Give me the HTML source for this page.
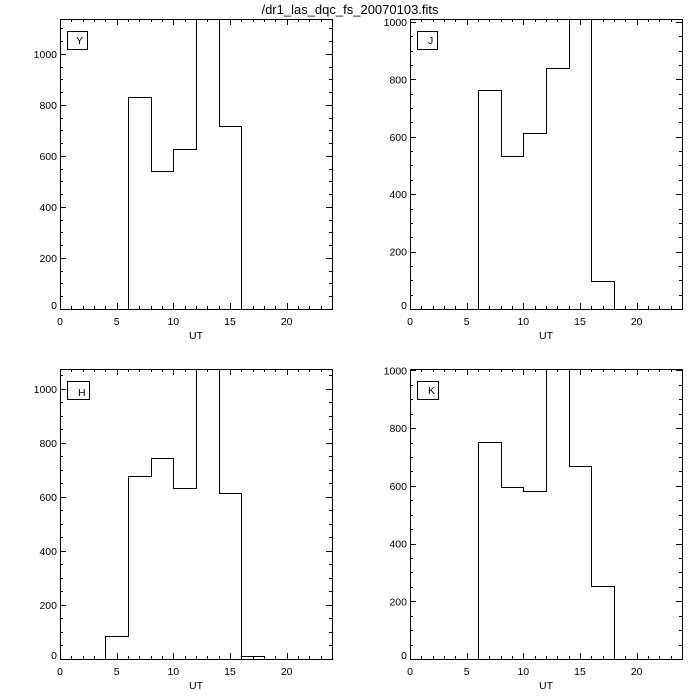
<!DOCTYPE html>
<html><head><meta charset="utf-8"><style>
html,body{margin:0;padding:0;background:#fff;}
svg{display:block;}
text{font-family:"Liberation Sans","DejaVu Sans",sans-serif;font-size:10.5px;fill:#000;}
</style></head><body>
<svg id="s" width="700" height="700" viewBox="0 0 700 700" xmlns="http://www.w3.org/2000/svg">
<rect width="700" height="700" fill="#fff"/>
<text x="350" y="14" text-anchor="middle" style="font-size:13px">/dr1_las_dqc_fs_20070103.fits</text>
<g id="g" fill="none" stroke="#000" stroke-width="1"></g>
<g text-anchor="middle">
<text x="60" y="325">0</text><text x="116.7" y="325">5</text><text x="173.3" y="325">10</text><text x="230" y="325">15</text><text x="286.7" y="325">20</text><text x="196" y="339">UT</text>
<text x="410" y="325">0</text><text x="466.7" y="325">5</text><text x="523.3" y="325">10</text><text x="580" y="325">15</text><text x="636.7" y="325">20</text><text x="546" y="339">UT</text>
<text x="60" y="675">0</text><text x="116.7" y="675">5</text><text x="173.3" y="675">10</text><text x="230" y="675">15</text><text x="286.7" y="675">20</text><text x="196" y="689">UT</text>
<text x="410" y="675">0</text><text x="466.7" y="675">5</text><text x="523.3" y="675">10</text><text x="580" y="675">15</text><text x="636.7" y="675">20</text><text x="546" y="689">UT</text>
</g>
<g text-anchor="end">
<text x="57" y="309">0</text><text x="57" y="262">200</text><text x="57" y="211">400</text><text x="57" y="160">600</text><text x="57" y="109">800</text><text x="57" y="58">1000</text>
<text x="407" y="309">0</text><text x="407" y="255.6">200</text><text x="407" y="198.2">400</text><text x="407" y="140.8">600</text><text x="407" y="83.3">800</text><text x="407" y="26">1000</text>
<text x="57" y="659">0</text><text x="57" y="609">200</text><text x="57" y="555">400</text><text x="57" y="501">600</text><text x="57" y="447">800</text><text x="57" y="393">1000</text>
<text x="407" y="659">0</text><text x="407" y="605.3">200</text><text x="407" y="547.6">400</text><text x="407" y="489.9">600</text><text x="407" y="432.2">800</text><text x="407" y="374.4">1000</text>
</g>
<text x="76" y="44">Y</text>
<text x="428" y="44">J</text>
<text x="78" y="396">H</text>
<text x="428" y="394">K</text>
</svg>
<script>
var g=document.getElementById('g'),NS='http://www.w3.org/2000/svg';
function L(x1,y1,x2,y2){var l=document.createElementNS(NS,'line');l.setAttribute('x1',x1);l.setAttribute('y1',y1);l.setAttribute('x2',x2);l.setAttribute('y2',y2);g.appendChild(l);}
function P(d){var p=document.createElementNS(NS,'path');p.setAttribute('d',d);g.appendChild(p);}
function panel(x0,y0,ymax,start,vals,box){
 var x1=x0+272,y1=y0+290,sx=272/24,sy=290/ymax;
 var r=document.createElementNS(NS,'rect');r.setAttribute('x',x0+.5);r.setAttribute('y',y0+.5);r.setAttribute('width',272);r.setAttribute('height',290);g.appendChild(r);
 for(var v=0;v<=24;v++){var x=Math.round(x0+v*sx)+.5,len=v%5==0?6:3;L(x,y1,x,y1-len);L(x,y0,x,y0+len);}
 for(var v=0;v<=ymax;v+=50){var y=Math.round(y1-v*sy)+.5,len=v%200==0?6:3;L(x0,y,x0+len,y);L(x1,y,x1-len,y);}
 var xs=function(u){return Math.round(x0+u*sx)+.5;};
 var ys=function(h){return Math.max(y0,Math.round(y1-h*sy))+.5;};
 var d='M'+xs(start)+' '+(y1+.5);
 for(var i=0;i<vals.length;i++){var xa=xs(start+2*i),xb=xs(start+2*i+2),y=ys(vals[i]);
  d+=' L'+xa+' '+y+' L'+xb+' '+y;}
 d+=' L'+xs(start+2*vals.length)+' '+(y1+.5);
 P(d);
 var r2=document.createElementNS(NS,'rect');r2.setAttribute('x',x0+7.5);r2.setAttribute('y',y0+12.5);r2.setAttribute('width',box);r2.setAttribute('height',18);g.appendChild(r2);
}
panel(60,19,1137,6,[830,540,627,2000,717],20);
panel(410,19,1010,6,[762,532,612,838,2000,97],20);
panel(60,369,1074,4,[84,678,745,634,2000,615,12],22);
panel(410,369,1005,6,[752,596,583,2000,669,252],21);
</script>
</body></html>
